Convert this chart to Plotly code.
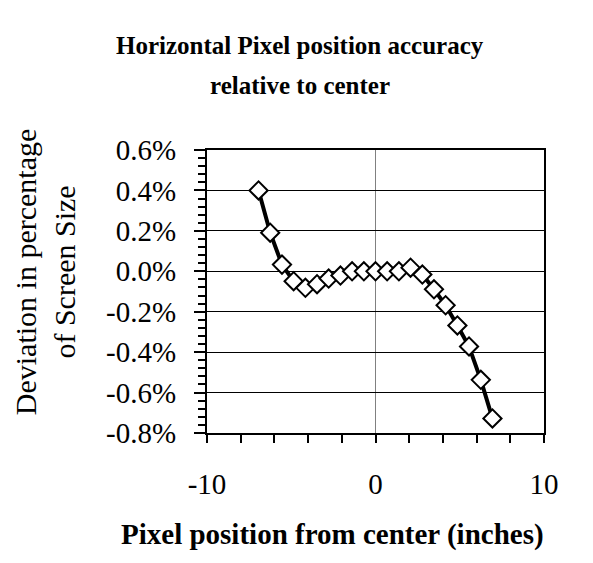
import plotly.graph_objects as go

# pixel position from center (inches) and deviation (% of screen size)
posicao = [-6.94, -6.25, -5.55, -4.86, -4.16, -3.47, -2.78, -2.08, -1.39, -0.69, 0.0,
           0.69, 1.39, 2.08, 2.78, 3.47, 4.16, 4.86, 5.55, 6.25, 6.94]
desvio_pct = [0.400, 0.191, 0.033, -0.049, -0.082, -0.064, -0.036, -0.021, 0.0, 0.0, 0.0,
              0.0, 0.0, 0.018, -0.016, -0.089, -0.168, -0.268, -0.372, -0.537, -0.728]

y_ticks = [0.6, 0.4, 0.2, 0.0, -0.2, -0.4, -0.6, -0.8]
y_labels = ['0.6%', '0.4%', '0.2%', '0.0%', '-0.2%', '-0.4%', '-0.6%', '-0.8%']
x_ticks = [-10, 0, 10]
x_labels = ['-10', '0', '10']

FONTE = 'Liberation Serif'
TICKS = dict(family=FONTE, size=29, color='black')
BOLD = dict(family=FONTE, size=25, color='black')

fig = go.Figure()
fig.add_trace(go.Scatter(x=posicao, y=desvio_pct,
                         mode='lines+markers',
                         line=dict(color='black', width=4),
                         marker=dict(symbol='diamond', size=14, color='white',
                                     line=dict(color='black', width=2))))

ANNOTATIONS = [
    dict(x=0.276, y=1.37, xref='paper', yref='paper', showarrow=False,
         text='<b>Horizontal Pixel position accuracy</b>', font=BOLD,
         xanchor='center', yanchor='middle'),
    dict(x=0.276, y=1.228, xref='paper', yref='paper', showarrow=False,
         text='<b>relative to center</b>', font=BOLD,
         xanchor='center', yanchor='middle'),
    dict(x=0.371, y=-0.36, xref='paper', yref='paper', showarrow=False,
         text='<b>Pixel position from center (inches)</b>',
         font=dict(family=FONTE, size=29, color='black'),
         xanchor='center', yanchor='middle'),
    dict(x=-0.48, y=0.569, xref='paper', yref='paper', showarrow=False,
         text='Deviation in percentage<br>of Screen Size', textangle=-90,
         font=dict(family=FONTE, size=30, color='black'),
         xanchor='center', yanchor='middle'),
]

fig.update_layout(width=585, height=555,
                  margin=dict(l=199, r=49, t=142, b=130),
                  paper_bgcolor='white', plot_bgcolor='white',
                  showlegend=False,
                  annotations=ANNOTATIONS,
                  xaxis=dict(range=[-10, 10], tickvals=x_ticks, ticktext=x_labels, tickfont=TICKS,
                             showgrid=True, gridcolor='#808080', gridwidth=1,
                             zeroline=False,
                             showline=True, linecolor='black', linewidth=2, mirror=True,
                             ticks='outside', ticklen=8, tickwidth=1.5, tickcolor='black',
                             ticklabelstandoff=16,
                             minor=dict(dtick=2, ticks='outside', ticklen=8, tickcolor='black', showgrid=False)),
                  yaxis=dict(range=[-0.8, 0.6], tickvals=y_ticks, ticktext=y_labels, tickfont=TICKS,
                             showgrid=True, gridcolor='black', gridwidth=1,
                             zeroline=False,
                             showline=True, linecolor='black', linewidth=2, mirror=True,
                             ticks='outside', ticklen=11, tickwidth=1.5, tickcolor='black',
                             ticklabelstandoff=12,
                             minor=dict(dtick=0.04, ticks='outside', ticklen=7, tickcolor='black', showgrid=False)))

fig.write_html("out.html")
